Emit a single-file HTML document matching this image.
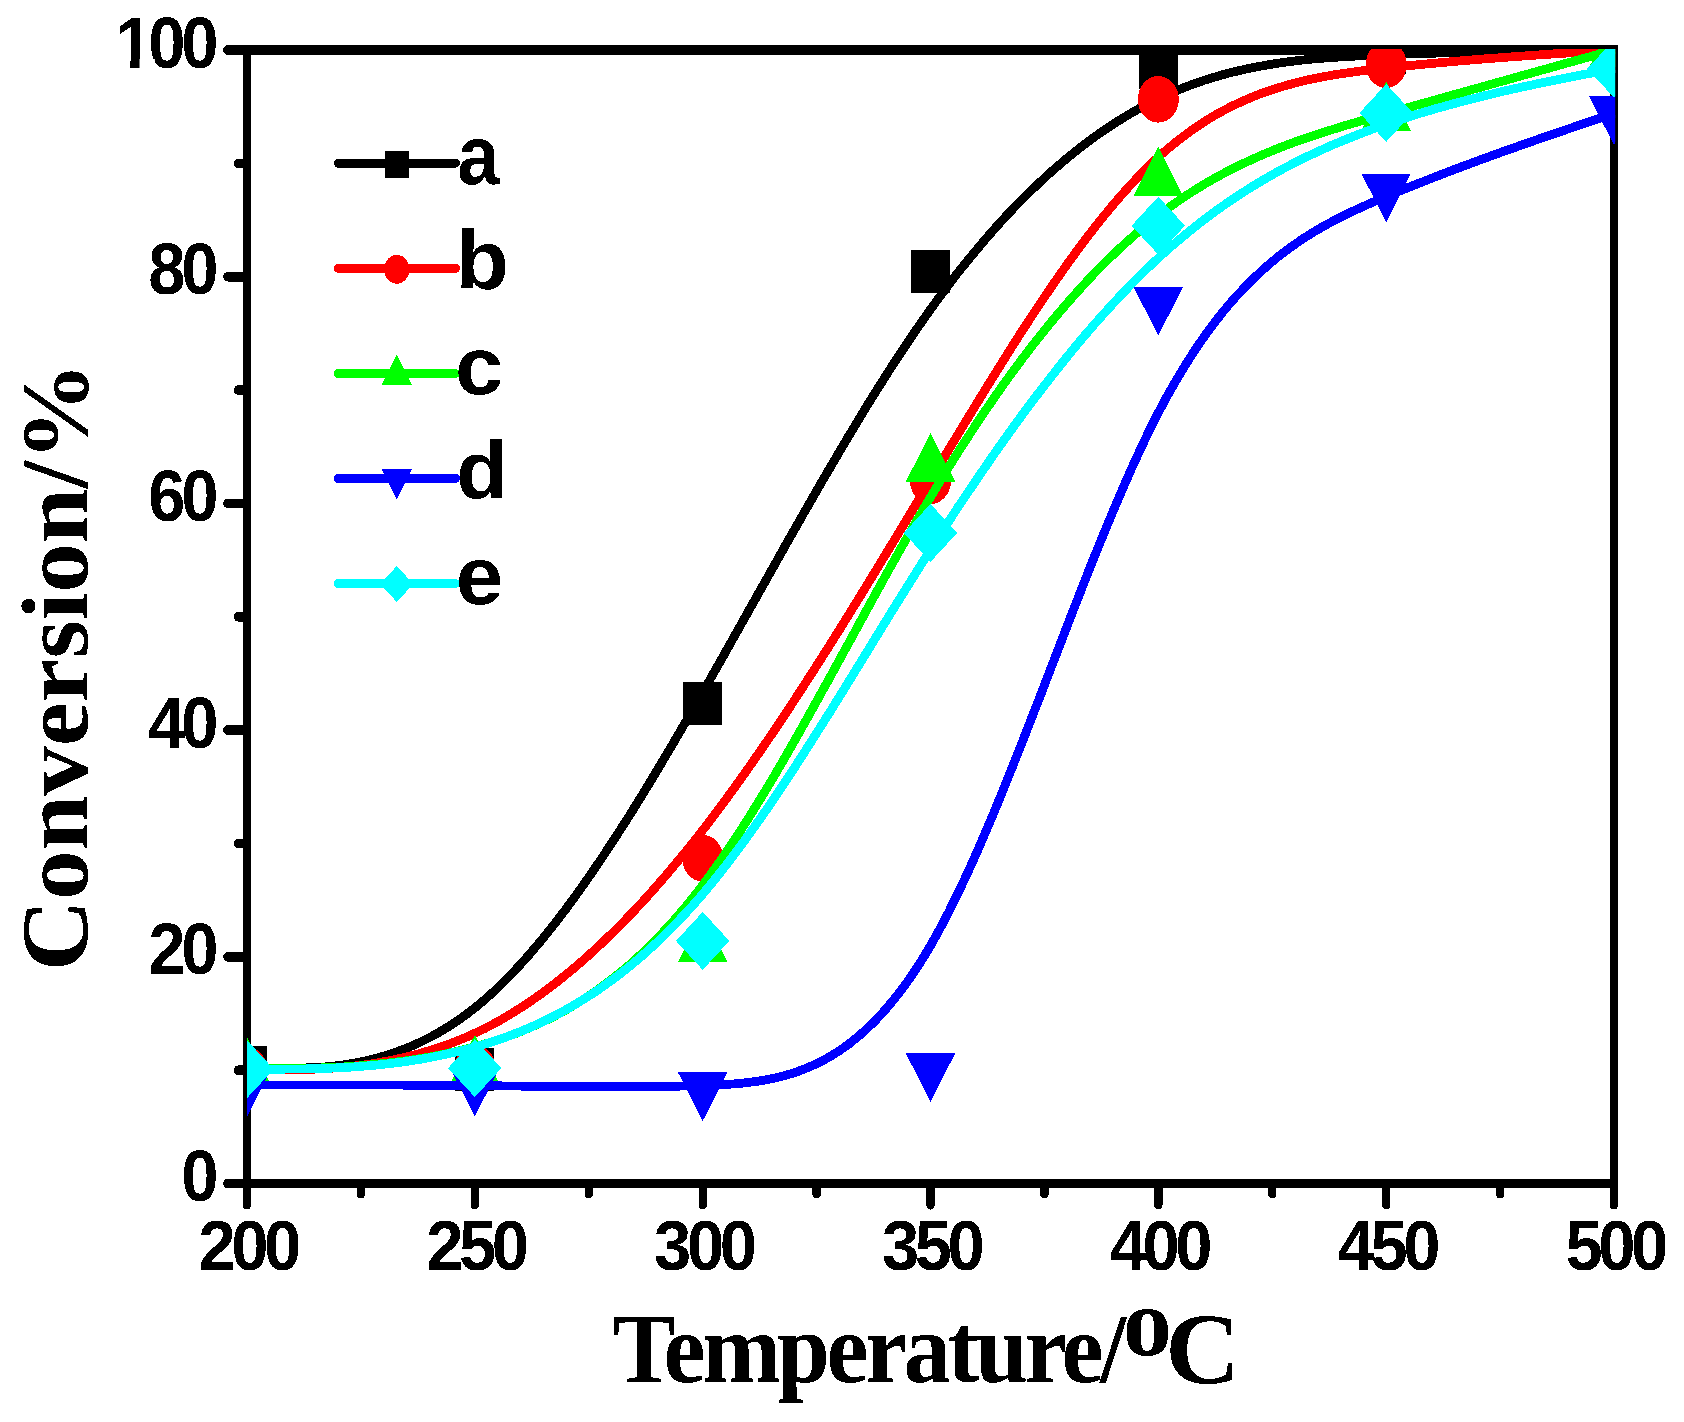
<!DOCTYPE html><html><head><meta charset="utf-8"><title>Conversion vs Temperature</title><style>html,body{margin:0;padding:0;background:#fff}svg{display:block}</style></head><body><svg width="1684" height="1422" viewBox="0 0 1684 1422" shape-rendering="crispEdges">
<rect width="1684" height="1422" fill="#fff"/>
<g stroke="#000" stroke-width="8.6" stroke-linecap="round" fill="none">
<path d="M247.0,50.0 H1614.0 M247.0,1183.5 H1614.0" stroke-width="9.6" stroke-linecap="butt"/>
<path d="M247.0,45.2 V1188.3 M1614.0,45.2 V1188.3" stroke-width="8.2" stroke-linecap="butt"/>
<path d="M246.0,1183.5 H228.1" stroke-width="9.8"/>
<path d="M246.0,1070.2 H238.6" stroke-width="9.8"/>
<path d="M246.0,956.8 H228.1" stroke-width="9.8"/>
<path d="M246.0,843.5 H238.6" stroke-width="9.8"/>
<path d="M246.0,730.1 H228.1" stroke-width="9.8"/>
<path d="M246.0,616.8 H238.6" stroke-width="9.8"/>
<path d="M246.0,503.4 H228.1" stroke-width="9.8"/>
<path d="M246.0,390.1 H238.6" stroke-width="9.8"/>
<path d="M246.0,276.7 H228.1" stroke-width="9.8"/>
<path d="M246.0,163.4 H238.6" stroke-width="9.8"/>
<path d="M246.0,50.0 H228.1" stroke-width="9.8"/>
<path d="M247.0,1184.5 V1205.3" stroke-width="8.4"/>
<path d="M360.9,1184.5 V1194.3" stroke-width="8.4"/>
<path d="M474.8,1184.5 V1205.3" stroke-width="8.4"/>
<path d="M588.8,1184.5 V1194.3" stroke-width="8.4"/>
<path d="M702.7,1184.5 V1205.3" stroke-width="8.4"/>
<path d="M816.6,1184.5 V1194.3" stroke-width="8.4"/>
<path d="M930.5,1184.5 V1205.3" stroke-width="8.4"/>
<path d="M1044.4,1184.5 V1194.3" stroke-width="8.4"/>
<path d="M1158.3,1184.5 V1205.3" stroke-width="8.4"/>
<path d="M1272.2,1184.5 V1194.3" stroke-width="8.4"/>
<path d="M1386.2,1184.5 V1205.3" stroke-width="8.4"/>
<path d="M1500.1,1184.5 V1194.3" stroke-width="8.4"/>
<path d="M1614.0,1184.5 V1205.3" stroke-width="8.4"/>
</g>
<clipPath id="cp"><rect x="247.0" y="49" width="1368.2" height="1135.5"/></clipPath>
<g clip-path="url(#cp)">
<path d="M247.0,1067.9 L247.0,1067.9 L247.0,1067.9 L247.1,1067.9 L247.2,1067.9 L247.3,1067.9 L247.5,1067.9 L247.8,1067.9 L248.2,1067.9 L248.8,1067.9 L249.4,1067.9 L250.2,1067.9 L251.2,1067.9 L252.3,1067.9 L253.7,1067.9 L255.2,1067.9 L257.0,1067.9 L258.9,1067.9 L261.2,1068.0 L263.7,1068.0 L266.4,1068.0 L269.5,1068.0 L272.9,1068.0 L276.6,1068.0 L280.6,1068.1 L285.0,1068.1 L289.7,1068.1 L294.8,1068.1 L300.2,1068.0 L306.0,1067.9 L312.0,1067.7 L318.3,1067.4 L325.0,1066.9 L331.8,1066.3 L339.0,1065.5 L346.3,1064.5 L353.9,1063.2 L361.7,1061.7 L369.7,1059.9 L377.8,1057.8 L386.1,1055.4 L394.6,1052.6 L403.2,1049.4 L411.9,1045.9 L420.7,1041.9 L429.6,1037.5 L438.5,1032.6 L447.6,1027.2 L456.6,1021.3 L465.7,1014.9 L474.8,1007.9 L483.9,1000.3 L493.1,992.2 L502.2,983.5 L511.3,974.3 L520.4,964.5 L529.5,954.3 L538.6,943.6 L547.7,932.5 L556.9,920.9 L566.0,908.9 L575.1,896.5 L584.2,883.7 L593.3,870.6 L602.4,857.2 L611.5,843.4 L620.6,829.3 L629.8,815.0 L638.9,800.3 L648.0,785.5 L657.1,770.4 L666.2,755.1 L675.3,739.7 L684.4,724.1 L693.6,708.3 L702.7,692.4 L711.8,676.4 L720.9,660.3 L730.0,644.1 L739.1,627.9 L748.2,611.7 L757.3,595.5 L766.5,579.2 L775.6,563.0 L784.7,546.8 L793.8,530.7 L802.9,514.7 L812.0,498.8 L821.1,482.9 L830.3,467.3 L839.4,451.8 L848.5,436.4 L857.6,421.3 L866.7,406.3 L875.8,391.7 L884.9,377.2 L894.0,363.0 L903.2,349.1 L912.3,335.6 L921.4,322.3 L930.5,309.4 L939.6,296.9 L948.7,284.7 L957.8,272.8 L967.0,261.4 L976.1,250.3 L985.2,239.5 L994.3,229.1 L1003.4,219.0 L1012.5,209.3 L1021.6,199.9 L1030.7,190.9 L1039.9,182.2 L1049.0,173.8 L1058.1,165.8 L1067.2,158.1 L1076.3,150.7 L1085.4,143.7 L1094.5,136.9 L1103.7,130.5 L1112.8,124.4 L1121.9,118.7 L1131.0,113.2 L1140.1,108.1 L1149.2,103.2 L1158.3,98.7 L1167.4,94.5 L1176.6,90.6 L1185.7,86.9 L1194.8,83.5 L1203.9,80.4 L1213.0,77.6 L1222.1,74.9 L1231.2,72.5 L1240.4,70.3 L1249.5,68.3 L1258.6,66.5 L1267.7,64.9 L1276.8,63.4 L1285.9,62.1 L1295.0,60.9 L1304.1,59.9 L1313.3,59.0 L1322.4,58.2 L1331.5,57.5 L1340.6,56.9 L1349.7,56.4 L1358.8,55.9 L1367.9,55.5 L1377.1,55.1 L1386.2,54.7 L1395.3,54.4 L1404.4,54.1 L1413.4,53.8 L1422.5,53.5 L1431.4,53.2 L1440.3,53.0 L1449.1,52.8 L1457.8,52.5 L1466.4,52.3 L1474.9,52.1 L1483.2,52.0 L1491.3,51.8 L1499.3,51.6 L1507.1,51.5 L1514.7,51.4 L1522.0,51.2 L1529.2,51.1 L1536.0,51.0 L1542.7,50.9 L1549.0,50.8 L1555.0,50.7 L1560.8,50.7 L1566.2,50.6 L1571.3,50.5 L1576.0,50.5 L1580.4,50.4 L1584.4,50.4 L1588.1,50.3 L1591.5,50.3 L1594.6,50.2 L1597.3,50.2 L1599.8,50.2 L1602.1,50.1 L1604.0,50.1 L1605.8,50.1 L1607.3,50.1 L1608.7,50.1 L1609.8,50.1 L1610.8,50.0 L1611.6,50.0 L1612.2,50.0 L1612.8,50.0 L1613.2,50.0 L1613.5,50.0 L1613.7,50.0 L1613.8,50.0 L1613.9,50.0 L1614.0,50.0 L1614.0,50.0 L1614.0,50.0" fill="none" stroke="#000000" stroke-width="8.8" stroke-linejoin="round"/>
<rect x="227.5" y="1046.4" width="39.0" height="43.0" fill="#000000"/>
<rect x="455.3" y="1047.5" width="39.0" height="43.0" fill="#000000"/>
<rect x="683.2" y="682.0" width="39.0" height="43.0" fill="#000000"/>
<rect x="911.0" y="250.0" width="39.0" height="43.0" fill="#000000"/>
<rect x="1138.8" y="45.5" width="39.0" height="43.0" fill="#000000"/>
<rect x="1366.7" y="31.3" width="39.0" height="43.0" fill="#000000"/>
<rect x="1594.5" y="28.5" width="39.0" height="43.0" fill="#000000"/>
<path d="M247.0,1070.2 L247.0,1070.1 L247.0,1070.1 L247.1,1070.1 L247.2,1070.1 L247.3,1070.1 L247.5,1070.1 L247.8,1070.1 L248.2,1070.1 L248.8,1070.1 L249.4,1070.1 L250.2,1070.1 L251.2,1070.1 L252.3,1070.1 L253.7,1070.1 L255.2,1070.1 L257.0,1070.1 L258.9,1070.0 L261.2,1070.0 L263.7,1070.0 L266.4,1070.0 L269.5,1069.9 L272.9,1069.9 L276.6,1069.9 L280.6,1069.8 L285.0,1069.8 L289.7,1069.7 L294.8,1069.7 L300.2,1069.6 L306.0,1069.4 L312.0,1069.2 L318.3,1069.0 L325.0,1068.6 L331.8,1068.2 L339.0,1067.6 L346.3,1066.9 L353.9,1066.1 L361.7,1065.2 L369.7,1064.1 L377.8,1062.8 L386.1,1061.3 L394.6,1059.6 L403.2,1057.7 L411.9,1055.6 L420.7,1053.2 L429.6,1050.6 L438.5,1047.8 L447.6,1044.6 L456.6,1041.1 L465.7,1037.4 L474.8,1033.3 L483.9,1028.9 L493.1,1024.2 L502.2,1019.1 L511.3,1013.7 L520.4,1008.0 L529.5,1002.0 L538.6,995.7 L547.7,989.0 L556.9,982.0 L566.0,974.7 L575.1,967.2 L584.2,959.3 L593.3,951.1 L602.4,942.6 L611.5,933.8 L620.6,924.7 L629.8,915.4 L638.9,905.7 L648.0,895.8 L657.1,885.5 L666.2,875.0 L675.3,864.2 L684.4,853.2 L693.6,841.8 L702.7,830.2 L711.8,818.4 L720.9,806.2 L730.0,793.8 L739.1,781.2 L748.2,768.4 L757.3,755.3 L766.5,742.0 L775.6,728.6 L784.7,714.9 L793.8,701.1 L802.9,687.1 L812.0,673.0 L821.1,658.7 L830.3,644.3 L839.4,629.8 L848.5,615.1 L857.6,600.4 L866.7,585.6 L875.8,570.6 L884.9,555.7 L894.0,540.6 L903.2,525.5 L912.3,510.4 L921.4,495.2 L930.5,480.1 L939.6,464.9 L948.7,449.7 L957.8,434.6 L967.0,419.5 L976.1,404.6 L985.2,389.7 L994.3,375.0 L1003.4,360.4 L1012.5,345.9 L1021.6,331.7 L1030.7,317.7 L1039.9,303.9 L1049.0,290.4 L1058.1,277.2 L1067.2,264.3 L1076.3,251.7 L1085.4,239.5 L1094.5,227.7 L1103.7,216.2 L1112.8,205.2 L1121.9,194.6 L1131.0,184.5 L1140.1,174.8 L1149.2,165.7 L1158.3,157.1 L1167.4,149.1 L1176.6,141.6 L1185.7,134.6 L1194.8,128.1 L1203.9,122.0 L1213.0,116.4 L1222.1,111.3 L1231.2,106.5 L1240.4,102.2 L1249.5,98.2 L1258.6,94.5 L1267.7,91.2 L1276.8,88.2 L1285.9,85.5 L1295.0,83.0 L1304.1,80.7 L1313.3,78.7 L1322.4,76.9 L1331.5,75.3 L1340.6,73.8 L1349.7,72.5 L1358.8,71.2 L1367.9,70.1 L1377.1,69.0 L1386.2,68.0 L1395.3,67.1 L1404.4,66.1 L1413.4,65.2 L1422.5,64.3 L1431.4,63.5 L1440.3,62.7 L1449.1,61.9 L1457.8,61.1 L1466.4,60.4 L1474.9,59.7 L1483.2,59.0 L1491.3,58.4 L1499.3,57.8 L1507.1,57.2 L1514.7,56.6 L1522.0,56.1 L1529.2,55.6 L1536.0,55.1 L1542.7,54.7 L1549.0,54.2 L1555.0,53.8 L1560.8,53.4 L1566.2,53.1 L1571.3,52.8 L1576.0,52.5 L1580.4,52.2 L1584.4,51.9 L1588.1,51.7 L1591.5,51.5 L1594.6,51.3 L1597.3,51.1 L1599.8,50.9 L1602.1,50.8 L1604.0,50.6 L1605.8,50.5 L1607.3,50.4 L1608.7,50.3 L1609.8,50.3 L1610.8,50.2 L1611.6,50.2 L1612.2,50.1 L1612.8,50.1 L1613.2,50.1 L1613.5,50.0 L1613.7,50.0 L1613.8,50.0 L1613.9,50.0 L1614.0,50.0 L1614.0,50.0 L1614.0,50.0" fill="none" stroke="#ff0000" stroke-width="8.8" stroke-linejoin="round"/>
<ellipse cx="247.0" cy="1070.2" rx="20.5" ry="23.3" fill="#ff0000"/>
<ellipse cx="474.8" cy="1067.9" rx="20.5" ry="23.3" fill="#ff0000"/>
<ellipse cx="702.7" cy="858.2" rx="20.5" ry="23.3" fill="#ff0000"/>
<ellipse cx="930.5" cy="480.7" rx="20.5" ry="23.3" fill="#ff0000"/>
<ellipse cx="1158.3" cy="99.3" rx="20.5" ry="23.3" fill="#ff0000"/>
<ellipse cx="1386.2" cy="64.7" rx="20.5" ry="23.3" fill="#ff0000"/>
<ellipse cx="1614.0" cy="50.0" rx="20.5" ry="23.3" fill="#ff0000"/>
<path d="M247.0,1069.0 L247.0,1069.0 L247.0,1069.0 L247.1,1069.0 L247.2,1069.0 L247.3,1069.0 L247.5,1069.0 L247.8,1069.0 L248.2,1069.0 L248.8,1069.0 L249.4,1069.0 L250.2,1069.0 L251.2,1069.0 L252.3,1069.0 L253.7,1069.0 L255.2,1068.9 L257.0,1068.9 L258.9,1068.9 L261.2,1068.9 L263.7,1068.9 L266.4,1068.8 L269.5,1068.8 L272.9,1068.8 L276.6,1068.7 L280.6,1068.7 L285.0,1068.6 L289.7,1068.6 L294.8,1068.5 L300.2,1068.5 L306.0,1068.3 L312.0,1068.2 L318.3,1068.0 L325.0,1067.8 L331.8,1067.5 L339.0,1067.2 L346.3,1066.8 L353.9,1066.3 L361.7,1065.7 L369.7,1065.0 L377.8,1064.2 L386.1,1063.3 L394.6,1062.3 L403.2,1061.2 L411.9,1059.9 L420.7,1058.5 L429.6,1057.0 L438.5,1055.3 L447.6,1053.4 L456.6,1051.4 L465.7,1049.2 L474.8,1046.8 L483.9,1044.2 L493.1,1041.5 L502.2,1038.4 L511.3,1035.2 L520.4,1031.7 L529.5,1027.9 L538.6,1023.9 L547.7,1019.5 L556.9,1014.9 L566.0,1009.9 L575.1,1004.5 L584.2,998.9 L593.3,992.8 L602.4,986.3 L611.5,979.5 L620.6,972.2 L629.8,964.5 L638.9,956.3 L648.0,947.7 L657.1,938.5 L666.2,928.9 L675.3,918.8 L684.4,908.2 L693.6,897.0 L702.7,885.2 L711.8,872.9 L720.9,860.0 L730.0,846.7 L739.1,832.8 L748.2,818.6 L757.3,803.9 L766.5,788.9 L775.6,773.6 L784.7,757.9 L793.8,742.1 L802.9,725.9 L812.0,709.7 L821.1,693.2 L830.3,676.7 L839.4,660.0 L848.5,643.4 L857.6,626.7 L866.7,610.0 L875.8,593.4 L884.9,576.9 L894.0,560.6 L903.2,544.4 L912.3,528.4 L921.4,512.6 L930.5,497.2 L939.6,482.0 L948.7,467.1 L957.8,452.6 L967.0,438.4 L976.1,424.5 L985.2,410.9 L994.3,397.6 L1003.4,384.6 L1012.5,372.0 L1021.6,359.7 L1030.7,347.7 L1039.9,336.1 L1049.0,324.8 L1058.1,313.8 L1067.2,303.2 L1076.3,292.9 L1085.4,282.9 L1094.5,273.2 L1103.7,264.0 L1112.8,255.0 L1121.9,246.4 L1131.0,238.2 L1140.1,230.3 L1149.2,222.7 L1158.3,215.5 L1167.4,208.6 L1176.6,202.1 L1185.7,195.9 L1194.8,190.1 L1203.9,184.5 L1213.0,179.2 L1222.1,174.2 L1231.2,169.4 L1240.4,164.9 L1249.5,160.6 L1258.6,156.5 L1267.7,152.6 L1276.8,148.9 L1285.9,145.3 L1295.0,142.0 L1304.1,138.7 L1313.3,135.6 L1322.4,132.6 L1331.5,129.8 L1340.6,127.0 L1349.7,124.2 L1358.8,121.6 L1367.9,118.9 L1377.1,116.3 L1386.2,113.8 L1395.3,111.2 L1404.4,108.6 L1413.4,106.1 L1422.5,103.5 L1431.4,101.0 L1440.3,98.5 L1449.1,96.0 L1457.8,93.6 L1466.4,91.2 L1474.9,88.8 L1483.2,86.5 L1491.3,84.2 L1499.3,82.0 L1507.1,79.8 L1514.7,77.7 L1522.0,75.6 L1529.2,73.6 L1536.0,71.7 L1542.7,69.9 L1549.0,68.1 L1555.0,66.4 L1560.8,64.8 L1566.2,63.3 L1571.3,61.9 L1576.0,60.6 L1580.4,59.4 L1584.4,58.2 L1588.1,57.2 L1591.5,56.3 L1594.6,55.4 L1597.3,54.6 L1599.8,53.9 L1602.1,53.3 L1604.0,52.8 L1605.8,52.3 L1607.3,51.9 L1608.7,51.5 L1609.8,51.2 L1610.8,50.9 L1611.6,50.7 L1612.2,50.5 L1612.8,50.3 L1613.2,50.2 L1613.5,50.1 L1613.7,50.1 L1613.8,50.0 L1613.9,50.0 L1614.0,50.0 L1614.0,50.0 L1614.0,50.0" fill="none" stroke="#00ff00" stroke-width="8.8" stroke-linejoin="round"/>
<polygon points="247.0,1037.3 271.8,1086.1 222.2,1086.1" fill="#00ff00"/>
<polygon points="474.8,1035.0 499.6,1083.8 450.0,1083.8" fill="#00ff00"/>
<polygon points="702.7,913.2 727.5,962.0 677.9,962.0" fill="#00ff00"/>
<polygon points="930.5,433.1 955.3,481.9 905.7,481.9" fill="#00ff00"/>
<polygon points="1158.3,146.9 1183.1,195.7 1133.5,195.7" fill="#00ff00"/>
<polygon points="1386.2,81.8 1411.0,130.6 1361.4,130.6" fill="#00ff00"/>
<polygon points="1614.0,18.3 1638.8,67.1 1589.2,67.1" fill="#00ff00"/>
<path d="M247.0,1084.9 L247.0,1084.9 L247.0,1084.9 L247.1,1084.9 L247.2,1084.9 L247.3,1084.9 L247.5,1084.9 L247.8,1084.9 L248.2,1084.9 L248.8,1084.9 L249.4,1084.9 L250.2,1084.9 L251.2,1084.9 L252.3,1084.9 L253.7,1084.9 L255.2,1084.9 L257.0,1084.9 L258.9,1084.9 L261.2,1084.9 L263.7,1084.9 L266.4,1084.9 L269.5,1084.9 L272.9,1084.9 L276.6,1084.9 L280.6,1084.9 L285.0,1084.9 L289.7,1084.9 L294.8,1084.9 L300.2,1084.9 L306.0,1084.9 L312.0,1084.9 L318.3,1084.9 L325.0,1084.9 L331.8,1084.9 L339.0,1084.9 L346.3,1084.9 L353.9,1084.9 L361.7,1085.0 L369.7,1085.0 L377.8,1085.0 L386.1,1085.0 L394.6,1085.1 L403.2,1085.1 L411.9,1085.2 L420.7,1085.2 L429.6,1085.3 L438.5,1085.3 L447.6,1085.4 L456.6,1085.5 L465.7,1085.6 L474.8,1085.6 L483.9,1085.7 L493.1,1085.8 L502.2,1085.9 L511.3,1086.0 L520.4,1086.1 L529.5,1086.3 L538.6,1086.3 L547.7,1086.4 L556.9,1086.5 L566.0,1086.6 L575.1,1086.7 L584.2,1086.7 L593.3,1086.8 L602.4,1086.8 L611.5,1086.8 L620.6,1086.8 L629.8,1086.7 L638.9,1086.7 L648.0,1086.6 L657.1,1086.5 L666.2,1086.3 L675.3,1086.2 L684.4,1086.0 L693.6,1085.7 L702.7,1085.5 L711.8,1085.1 L720.9,1084.7 L730.0,1084.2 L739.1,1083.5 L748.2,1082.5 L757.3,1081.3 L766.5,1079.8 L775.6,1077.9 L784.7,1075.6 L793.8,1072.9 L802.9,1069.6 L812.0,1065.8 L821.1,1061.5 L830.3,1056.4 L839.4,1050.7 L848.5,1044.3 L857.6,1037.0 L866.7,1029.0 L875.8,1020.1 L884.9,1010.2 L894.0,999.4 L903.2,987.6 L912.3,974.7 L921.4,960.8 L930.5,945.7 L939.6,929.4 L948.7,912.0 L957.8,893.5 L967.0,874.2 L976.1,854.0 L985.2,833.1 L994.3,811.5 L1003.4,789.4 L1012.5,766.7 L1021.6,743.7 L1030.7,720.4 L1039.9,696.9 L1049.0,673.2 L1058.1,649.6 L1067.2,625.9 L1076.3,602.5 L1085.4,579.2 L1094.5,556.3 L1103.7,533.8 L1112.8,511.9 L1121.9,490.5 L1131.0,469.8 L1140.1,449.9 L1149.2,430.8 L1158.3,412.7 L1167.4,395.6 L1176.6,379.6 L1185.7,364.5 L1194.8,350.3 L1203.9,337.0 L1213.0,324.6 L1222.1,312.9 L1231.2,302.0 L1240.4,291.9 L1249.5,282.5 L1258.6,273.7 L1267.7,265.5 L1276.8,257.8 L1285.9,250.8 L1295.0,244.2 L1304.1,238.0 L1313.3,232.3 L1322.4,226.9 L1331.5,221.9 L1340.6,217.2 L1349.7,212.7 L1358.8,208.5 L1367.9,204.4 L1377.1,200.4 L1386.2,196.6 L1395.3,192.8 L1404.4,189.1 L1413.4,185.4 L1422.5,181.9 L1431.4,178.3 L1440.3,174.9 L1449.1,171.5 L1457.8,168.2 L1466.4,165.0 L1474.9,161.9 L1483.2,158.8 L1491.3,155.8 L1499.3,152.9 L1507.1,150.2 L1514.7,147.5 L1522.0,144.9 L1529.2,142.4 L1536.0,140.0 L1542.7,137.7 L1549.0,135.5 L1555.0,133.4 L1560.8,131.5 L1566.2,129.6 L1571.3,127.9 L1576.0,126.3 L1580.4,124.8 L1584.4,123.5 L1588.1,122.2 L1591.5,121.1 L1594.6,120.1 L1597.3,119.1 L1599.8,118.3 L1602.1,117.5 L1604.0,116.8 L1605.8,116.3 L1607.3,115.7 L1608.7,115.3 L1609.8,114.9 L1610.8,114.6 L1611.6,114.3 L1612.2,114.1 L1612.8,113.9 L1613.2,113.8 L1613.5,113.7 L1613.7,113.6 L1613.8,113.5 L1613.9,113.5 L1614.0,113.5 L1614.0,113.5 L1614.0,113.5" fill="none" stroke="#0000ff" stroke-width="8.8" stroke-linejoin="round"/>
<polygon points="247.0,1116.6 271.8,1067.8 222.2,1067.8" fill="#0000ff"/>
<polygon points="474.8,1116.6 499.6,1067.8 450.0,1067.8" fill="#0000ff"/>
<polygon points="702.7,1121.1 727.5,1072.3 677.9,1072.3" fill="#0000ff"/>
<polygon points="930.5,1101.9 955.3,1053.1 905.7,1053.1" fill="#0000ff"/>
<polygon points="1158.3,335.6 1183.1,286.8 1133.5,286.8" fill="#0000ff"/>
<polygon points="1386.2,222.3 1411.0,173.5 1361.4,173.5" fill="#0000ff"/>
<polygon points="1614.0,145.2 1638.8,96.4 1589.2,96.4" fill="#0000ff"/>
<path d="M247.0,1069.2 L247.0,1069.2 L247.0,1069.2 L247.1,1069.2 L247.2,1069.2 L247.3,1069.2 L247.5,1069.2 L247.8,1069.2 L248.2,1069.2 L248.8,1069.2 L249.4,1069.2 L250.2,1069.2 L251.2,1069.2 L252.3,1069.2 L253.7,1069.2 L255.2,1069.2 L257.0,1069.2 L258.9,1069.2 L261.2,1069.2 L263.7,1069.2 L266.4,1069.1 L269.5,1069.1 L272.9,1069.1 L276.6,1069.1 L280.6,1069.1 L285.0,1069.1 L289.7,1069.0 L294.8,1069.0 L300.2,1068.9 L306.0,1068.9 L312.0,1068.8 L318.3,1068.6 L325.0,1068.4 L331.8,1068.1 L339.0,1067.8 L346.3,1067.4 L353.9,1066.9 L361.7,1066.3 L369.7,1065.7 L377.8,1064.9 L386.1,1064.0 L394.6,1063.0 L403.2,1061.9 L411.9,1060.6 L420.7,1059.2 L429.6,1057.6 L438.5,1055.8 L447.6,1053.9 L456.6,1051.8 L465.7,1049.6 L474.8,1047.1 L483.9,1044.4 L493.1,1041.6 L502.2,1038.5 L511.3,1035.1 L520.4,1031.5 L529.5,1027.7 L538.6,1023.6 L547.7,1019.3 L556.9,1014.6 L566.0,1009.7 L575.1,1004.5 L584.2,998.9 L593.3,993.1 L602.4,986.9 L611.5,980.3 L620.6,973.5 L629.8,966.2 L638.9,958.6 L648.0,950.6 L657.1,942.2 L666.2,933.4 L675.3,924.3 L684.4,914.6 L693.6,904.6 L702.7,894.1 L711.8,883.2 L720.9,871.8 L730.0,860.1 L739.1,848.0 L748.2,835.5 L757.3,822.7 L766.5,809.6 L775.6,796.2 L784.7,782.5 L793.8,768.7 L802.9,754.6 L812.0,740.3 L821.1,725.9 L830.3,711.4 L839.4,696.7 L848.5,682.0 L857.6,667.2 L866.7,652.4 L875.8,637.5 L884.9,622.7 L894.0,607.9 L903.2,593.2 L912.3,578.6 L921.4,564.1 L930.5,549.7 L939.6,535.5 L948.7,521.4 L957.8,507.5 L967.0,493.8 L976.1,480.3 L985.2,467.0 L994.3,453.8 L1003.4,440.9 L1012.5,428.2 L1021.6,415.7 L1030.7,403.4 L1039.9,391.4 L1049.0,379.6 L1058.1,368.0 L1067.2,356.6 L1076.3,345.6 L1085.4,334.7 L1094.5,324.2 L1103.7,313.9 L1112.8,303.9 L1121.9,294.1 L1131.0,284.7 L1140.1,275.5 L1149.2,266.6 L1158.3,258.1 L1167.4,249.8 L1176.6,241.9 L1185.7,234.3 L1194.8,226.9 L1203.9,219.8 L1213.0,213.0 L1222.1,206.5 L1231.2,200.2 L1240.4,194.1 L1249.5,188.3 L1258.6,182.7 L1267.7,177.4 L1276.8,172.2 L1285.9,167.3 L1295.0,162.6 L1304.1,158.0 L1313.3,153.7 L1322.4,149.5 L1331.5,145.4 L1340.6,141.6 L1349.7,137.9 L1358.8,134.3 L1367.9,130.8 L1377.1,127.5 L1386.2,124.3 L1395.3,121.3 L1404.4,118.3 L1413.4,115.4 L1422.5,112.6 L1431.4,110.0 L1440.3,107.4 L1449.1,105.0 L1457.8,102.6 L1466.4,100.3 L1474.9,98.2 L1483.2,96.1 L1491.3,94.1 L1499.3,92.2 L1507.1,90.4 L1514.7,88.7 L1522.0,87.1 L1529.2,85.5 L1536.0,84.1 L1542.7,82.7 L1549.0,81.4 L1555.0,80.2 L1560.8,79.0 L1566.2,78.0 L1571.3,77.0 L1576.0,76.1 L1580.4,75.2 L1584.4,74.4 L1588.1,73.7 L1591.5,73.1 L1594.6,72.5 L1597.3,71.9 L1599.8,71.5 L1602.1,71.0 L1604.0,70.6 L1605.8,70.3 L1607.3,70.0 L1608.7,69.7 L1609.8,69.5 L1610.8,69.3 L1611.6,69.2 L1612.2,69.0 L1612.8,68.9 L1613.2,68.9 L1613.5,68.8 L1613.7,68.8 L1613.8,68.7 L1613.9,68.7 L1614.0,68.7 L1614.0,68.7 L1614.0,68.7" fill="none" stroke="#00ffff" stroke-width="8.8" stroke-linejoin="round"/>
<polygon points="247.0,1040.2 273.7,1069.2 247.0,1098.2 220.3,1069.2" fill="#00ffff"/>
<polygon points="474.8,1039.1 501.5,1068.1 474.8,1097.1 448.1,1068.1" fill="#00ffff"/>
<polygon points="702.7,911.9 729.4,940.9 702.7,969.9 676.0,940.9" fill="#00ffff"/>
<polygon points="930.5,503.9 957.2,532.9 930.5,561.9 903.8,532.9" fill="#00ffff"/>
<polygon points="1158.3,196.7 1185.0,225.7 1158.3,254.7 1131.6,225.7" fill="#00ffff"/>
<polygon points="1386.2,83.9 1412.9,112.9 1386.2,141.9 1359.5,112.9" fill="#00ffff"/>
<polygon points="1614.0,39.7 1640.7,68.7 1614.0,97.7 1587.3,68.7" fill="#00ffff"/>
</g>
<filter id="bin" x="-5%" y="-5%" width="110%" height="110%"><feComponentTransfer><feFuncA type="discrete" tableValues="0 1"/></feComponentTransfer></filter>
<path d="M338.3,163.2 H455.5" stroke="#000000" stroke-width="9" stroke-linecap="round" fill="none"/>
<rect x="384.7" y="150.9" width="24.2" height="26.7" fill="#000000"/>
<text transform="translate(457.17,184.00) scale(0.9133,1.0043)" font-family="Liberation Sans, sans-serif" font-weight="bold" font-size="83"  filter="url(#bin)">a</text>
<path d="M338.3,268.3 H455.5" stroke="#ff0000" stroke-width="9" stroke-linecap="round" fill="none"/>
<ellipse cx="396.8" cy="269.3" rx="12.7" ry="14.4" fill="#ff0000"/>
<text transform="translate(455.58,289.00) scale(1.0537,1.0016)" font-family="Liberation Sans, sans-serif" font-weight="bold" font-size="83"  filter="url(#bin)">b</text>
<path d="M338.3,373.5 H455.5" stroke="#00ff00" stroke-width="9" stroke-linecap="round" fill="none"/>
<polygon points="396.8,354.8 412.2,385.1 381.4,385.1" fill="#00ff00"/>
<text transform="translate(455.06,393.91) scale(1.0450,0.9870)" font-family="Liberation Sans, sans-serif" font-weight="bold" font-size="83"  filter="url(#bin)">c</text>
<path d="M338.3,478.4 H455.5" stroke="#0000ff" stroke-width="9" stroke-linecap="round" fill="none"/>
<polygon points="396.8,499.1 412.2,468.8 381.4,468.8" fill="#0000ff"/>
<text transform="translate(456.15,498.31) scale(1.0167,0.9871)" font-family="Liberation Sans, sans-serif" font-weight="bold" font-size="83"  filter="url(#bin)">d</text>
<path d="M338.3,583.5 H455.5" stroke="#00ffff" stroke-width="9" stroke-linecap="round" fill="none"/>
<polygon points="396.8,566.0 413.4,584.0 396.8,602.0 380.2,584.0" fill="#00ffff"/>
<text transform="translate(455.71,604.21) scale(1.0300,0.9935)" font-family="Liberation Sans, sans-serif" font-weight="bold" font-size="83"  filter="url(#bin)">e</text>
<clipPath id="one"><path clip-rule="evenodd" d="M-200,-80H20V20H-200Z M-99,-8.2H-85.3V3H-99Z M-75.6,-8.2H-60V3H-75.6Z"/></clipPath>
<text transform="translate(214,1201.0) scale(0.985,1.05)" text-anchor="end" font-family="Liberation Sans, sans-serif" font-weight="bold" font-size="68" letter-spacing="-4.5" filter="url(#bin)">0</text>
<text transform="translate(214,974.3) scale(0.985,1.05)" text-anchor="end" font-family="Liberation Sans, sans-serif" font-weight="bold" font-size="68" letter-spacing="-4.5" filter="url(#bin)">20</text>
<text transform="translate(214,747.6) scale(0.985,1.05)" text-anchor="end" font-family="Liberation Sans, sans-serif" font-weight="bold" font-size="68" letter-spacing="-4.5" filter="url(#bin)">40</text>
<text transform="translate(214,520.9) scale(0.985,1.05)" text-anchor="end" font-family="Liberation Sans, sans-serif" font-weight="bold" font-size="68" letter-spacing="-4.5" filter="url(#bin)">60</text>
<text transform="translate(214,294.2) scale(0.985,1.05)" text-anchor="end" font-family="Liberation Sans, sans-serif" font-weight="bold" font-size="68" letter-spacing="-4.5" filter="url(#bin)">80</text>
<text transform="translate(214,67.5) scale(0.985,1.05)" text-anchor="end" font-family="Liberation Sans, sans-serif" font-weight="bold" font-size="68" letter-spacing="-4.5" filter="url(#bin)" clip-path="url(#one)">100</text>
<text transform="translate(247.6,1270) scale(0.985,1.04)" text-anchor="middle" font-family="Liberation Sans, sans-serif" font-weight="bold" font-size="68" letter-spacing="-4.5" filter="url(#bin)">200</text>
<text transform="translate(475.4,1270) scale(0.985,1.04)" text-anchor="middle" font-family="Liberation Sans, sans-serif" font-weight="bold" font-size="68" letter-spacing="-4.5" filter="url(#bin)">250</text>
<text transform="translate(703.3,1270) scale(0.985,1.04)" text-anchor="middle" font-family="Liberation Sans, sans-serif" font-weight="bold" font-size="68" letter-spacing="-4.5" filter="url(#bin)">300</text>
<text transform="translate(931.1,1270) scale(0.985,1.04)" text-anchor="middle" font-family="Liberation Sans, sans-serif" font-weight="bold" font-size="68" letter-spacing="-4.5" filter="url(#bin)">350</text>
<text transform="translate(1158.9,1270) scale(0.985,1.04)" text-anchor="middle" font-family="Liberation Sans, sans-serif" font-weight="bold" font-size="68" letter-spacing="-4.5" filter="url(#bin)">400</text>
<text transform="translate(1386.8,1270) scale(0.985,1.04)" text-anchor="middle" font-family="Liberation Sans, sans-serif" font-weight="bold" font-size="68" letter-spacing="-4.5" filter="url(#bin)">450</text>
<text transform="translate(1614.6,1270) scale(0.985,1.04)" text-anchor="middle" font-family="Liberation Sans, sans-serif" font-weight="bold" font-size="68" letter-spacing="-4.5" filter="url(#bin)">500</text>
<text transform="translate(87.40,971.14) rotate(-90) scale(1.0287,1.0000)" font-family="Liberation Serif, serif" font-weight="bold" font-size="96"  filter="url(#bin)">Conversion/%</text>
<text transform="translate(612.43,1382.47) scale(0.9856,1.0265)" font-family="Liberation Serif, serif" font-weight="bold" font-size="96" letter-spacing="-3.5" filter="url(#bin)">Temperature/</text>
<text transform="translate(1122.79,1355.09) scale(1.0275,1.0065)" font-family="Liberation Serif, serif" font-weight="bold" font-size="96"  filter="url(#bin)">o</text>
<text transform="translate(1165.18,1383.94) scale(1.0842,1.0578)" font-family="Liberation Serif, serif" font-weight="bold" font-size="96"  filter="url(#bin)">C</text>
</svg></body></html>
